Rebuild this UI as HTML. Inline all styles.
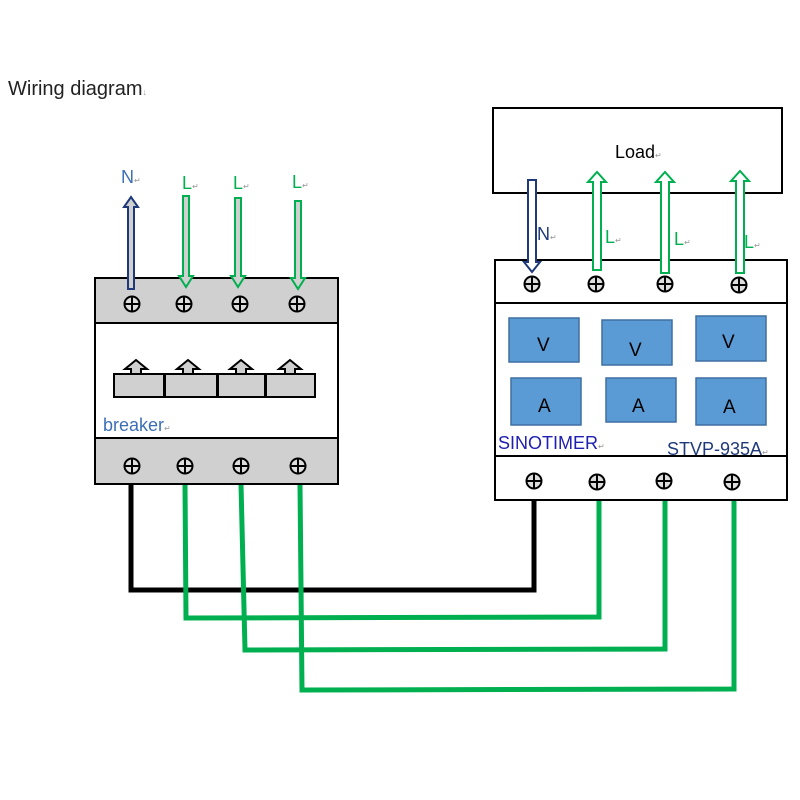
<!DOCTYPE html>
<html><head><meta charset="utf-8"><style>
html,body{margin:0;padding:0;background:#fff;}
svg{display:block;font-family:"Liberation Sans",sans-serif;}
</style></head><body>
<svg width="800" height="800" viewBox="0 0 800 800">
<defs>
<g id="t"><circle r="7.5" fill="#ddd" stroke="#000" stroke-width="2"/><line x1="-7.5" y1="0" x2="7.5" y2="0" stroke="#000" stroke-width="2"/><line x1="0" y1="-7.5" x2="0" y2="7.5" stroke="#000" stroke-width="2"/></g>
</defs>
<text x="8" y="95" font-size="20" fill="#222">Wiring diagram<tspan font-size="9" fill="#999">↓</tspan></text>

<g fill="none" stroke-width="5" stroke-linejoin="miter">
<polyline points="131,484 131,590 534,590 534,497" stroke="#000"/>
<polyline points="185,484 186,618 599,617 599,497" stroke="#00b050"/>
<polyline points="241,484 245,650 665,649 665,497" stroke="#00b050"/>
<polyline points="300,484 302,690 734,689 734,497" stroke="#00b050"/>
</g>

<rect x="95" y="278" width="243" height="45" fill="#d0d0d0" stroke="#000" stroke-width="2"/>
<rect x="95" y="323" width="243" height="115" fill="#fff" stroke="#000" stroke-width="2"/>
<rect x="95" y="438" width="243" height="46" fill="#d0d0d0" stroke="#000" stroke-width="2"/>
<g fill="#d0d0d0" stroke="#000" stroke-width="2">
<rect x="114" y="374" width="50" height="23"/><rect x="165" y="374" width="52" height="23"/><rect x="218" y="374" width="47" height="23"/><rect x="266" y="374" width="49" height="23"/>
<path d="M131,374 V369 H125 L136,360 L147,369 H141 V374Z"/>
<path d="M183,374 V369 H177 L188,360 L199,369 H193 V374Z"/>
<path d="M236,374 V369 H230 L241,360 L252,369 H246 V374Z"/>
<path d="M285,374 V369 H279 L290,360 L301,369 H295 V374Z"/>
</g>
<text x="103" y="431" font-size="18" fill="#3d6fb5">breaker<tspan font-size="8" fill="#999">↵</tspan></text>
<use href="#t" x="132" y="304"/><use href="#t" x="184" y="304"/><use href="#t" x="240" y="304"/><use href="#t" x="297" y="304"/>
<use href="#t" x="132" y="466"/><use href="#t" x="185" y="466"/><use href="#t" x="241" y="466"/><use href="#t" x="298" y="466"/>

<path d="M128,289 V207 H124 L131,197 L138,207 H134 V289Z" fill="#d0d0d0" stroke="#1f3a7a" stroke-width="2"/>
<g fill="#d0d0d0" stroke="#00b050" stroke-width="2">
<path d="M183,196 H189 V276 H193 L186,287 L179,276 H183Z"/>
<path d="M235,198 H241 V276 H245 L238,287 L231,276 H235Z"/>
<path d="M295,201 H301 V278 H305 L298,289 L291,278 H295Z"/>
</g>
<text x="121" y="183" font-size="18" fill="#3d6fb5">N<tspan font-size="8" fill="#999">↵</tspan></text>
<text x="182" y="189" font-size="18" fill="#00b050">L<tspan font-size="8" fill="#999">↵</tspan></text>
<text x="233" y="189" font-size="18" fill="#00b050">L<tspan font-size="8" fill="#999">↵</tspan></text>
<text x="292" y="188" font-size="18" fill="#00b050">L<tspan font-size="8" fill="#999">↵</tspan></text>

<rect x="493" y="108" width="289" height="85" fill="#fff" stroke="#000" stroke-width="2"/>
<text x="615" y="158" font-size="18" fill="#000">Load<tspan font-size="8" fill="#999">↵</tspan></text>

<rect x="495" y="260" width="292" height="240" fill="#fff" stroke="#000" stroke-width="2"/>
<line x1="495" y1="303" x2="787" y2="303" stroke="#000" stroke-width="2"/>
<line x1="495" y1="456" x2="787" y2="456" stroke="#000" stroke-width="2"/>
<g fill="#5b9bd5" stroke="#3f6fa0" stroke-width="1.5">
<rect x="509" y="318" width="70" height="44"/><rect x="602" y="320" width="70" height="45"/><rect x="696" y="316" width="70" height="45"/>
<rect x="511" y="378" width="70" height="47"/><rect x="606" y="378" width="70" height="44"/><rect x="696" y="378" width="70" height="47"/>
</g>
<g font-size="19" fill="#000">
<text x="537" y="351">V</text><text x="629" y="356">V</text><text x="722" y="348">V</text>
<text x="538" y="412">A</text><text x="632" y="412">A</text><text x="723" y="413">A</text>
</g>
<text x="498" y="449" font-size="18" fill="#2020b0">SINOTIMER<tspan font-size="8" fill="#999">↵</tspan></text>
<text x="667" y="455" font-size="18" fill="#1f3a7a">STVP-935A<tspan font-size="8" fill="#999">↵</tspan></text>
<use href="#t" x="532" y="284"/><use href="#t" x="596" y="284"/><use href="#t" x="665" y="284"/><use href="#t" x="739" y="285"/>
<use href="#t" x="534" y="481"/><use href="#t" x="597" y="482"/><use href="#t" x="664" y="481"/><use href="#t" x="732" y="482"/>

<path d="M528,180 H536 V262 H540 L532,272 L524,262 H528Z" fill="#fff" stroke="#1f3a7a" stroke-width="2"/>
<g fill="#fff" stroke="#00b050" stroke-width="2">
<path d="M593,270 V182 H588 L597,172 L606,182 H601 V270Z"/>
<path d="M661,273 V182 H656 L665,172 L674,182 H669 V273Z"/>
<path d="M736,273 V181 H731 L740,171 L749,181 H744 V273Z"/>
</g>
<text x="537" y="240" font-size="18" fill="#1f3a7a">N<tspan font-size="8" fill="#999">↵</tspan></text>
<text x="605" y="243" font-size="18" fill="#00b050">L<tspan font-size="8" fill="#999">↵</tspan></text>
<text x="674" y="245" font-size="18" fill="#00b050">L<tspan font-size="8" fill="#999">↵</tspan></text>
<text x="744" y="248" font-size="18" fill="#00b050">L<tspan font-size="8" fill="#999">↵</tspan></text>
</svg>
</body></html>
